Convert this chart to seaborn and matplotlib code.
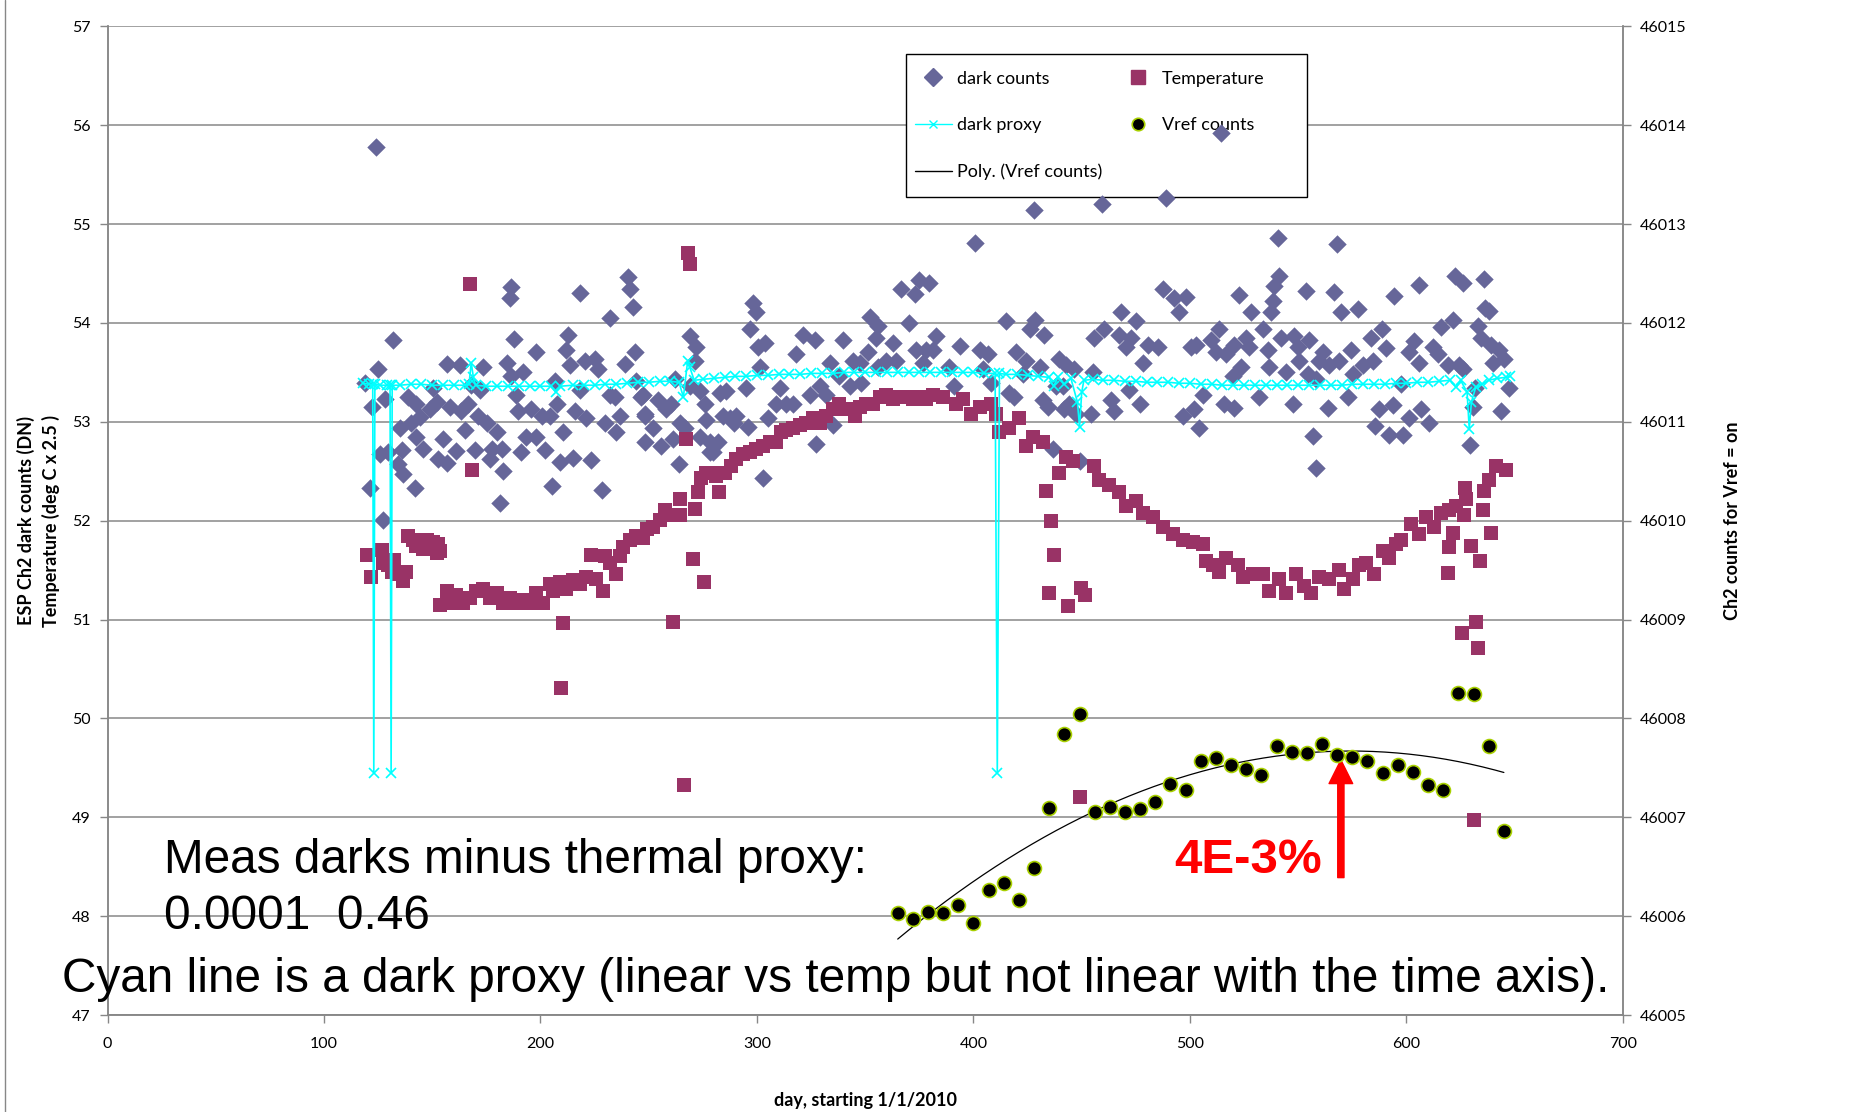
import matplotlib
matplotlib.use("Agg")
import matplotlib.pyplot as plt
import numpy as np
import seaborn as sns
from matplotlib.lines import Line2D
from matplotlib.patches import Rectangle

# ESP Ch2 dark counts (DN)
dark_days = [
    124.0, 132.0, 125.0, 118.9, 122.0, 128.1, 121.2, 125.8, 129.7, 127.4, 134.3, 136.6,
    142.0, 135.8, 135.0, 138.9, 142.7, 140.4, 144.3, 142.7, 145.8, 148.9, 150.4, 152.0,
    152.7, 155.1, 156.6, 156.6, 158.1, 161.2, 162.7, 163.5, 165.1, 166.6, 169.7, 168.1,
    172.0, 173.5, 171.2, 175.1, 176.6, 179.7, 182.0, 177.4, 182.8, 181.2, 184.3, 186.6,
    185.8, 186.3, 187.7, 189.7, 191.2, 192.0, 188.9, 193.5, 195.8, 198.1, 198.1, 200.5,
    202.0, 204.3, 205.1, 206.6, 207.4, 208.9, 210.5, 212.0, 212.8, 213.5, 215.1, 215.8,
    218.1, 218.1, 220.5, 221.2, 223.5, 225.1, 226.6, 228.2, 229.7, 232.0, 232.0, 234.3,
    235.1, 236.6, 238.9, 240.2, 241.2, 242.8, 243.5, 244.3, 246.6, 248.2, 248.2,
    247.3, 248.1, 252.0, 254.3, 255.8, 258.1, 260.4, 261.2, 262.0, 264.0, 264.3, 266.6,
    268.9, 272.0, 271.2, 268.9, 273.5, 275.8, 276.5, 273.5, 278.1, 279.7, 278.1, 282.0,
    282.8, 285.8, 284.3, 287.4, 290.4, 289.6, 295.1, 295.8, 296.6, 298.1, 299.7, 300.4,
    303.5, 301.2, 305.0, 302.7, 308.9, 310.4, 313.5, 318.1, 316.6, 321.2, 326.6, 324.3,
    327.4, 328.9, 333.5, 332.0, 335.1, 339.7, 338.1, 342.8, 344.3, 347.4, 348.2, 351.2,
    352.0, 355.8, 355.1, 356.0, 359.7, 362.8, 364.3, 366.6, 370.4, 372.8, 374.8, 379.4,
    373.5, 376.6, 378.2, 382.8,
    400.5, 427.9, 459.4, 489.0, 514.4, 381.2, 393.6, 388.9, 391.2, 402.8, 406.6, 404.3,
    408.2, 414.8, 419.7, 416.6, 418.9, 424.3, 425.9, 428.2, 432.8, 422.8, 430.5, 432.0,
    434.3, 436.6, 439.7, 442.8, 441.3, 438.2, 442.0, 444.3, 446.6, 447.4, 449.0, 454.3,
    455.1, 455.9, 460.5, 463.6, 465.1, 468.2, 467.4, 470.5, 472.8, 475.1, 476.7, 472.0,
    478.2, 480.5, 485.1, 487.4, 492.8, 498.2, 495.1, 496.7, 500.5, 502.8, 502.0, 504.3,
    505.9, 509.7, 512.0, 513.6, 515.9, 516.7,
    540.5, 567.8, 541.3, 539.0, 522.8, 528.2, 538.2, 537.5, 553.6, 566.7, 569.8, 577.5,
    594.4, 605.6, 622.6, 625.9, 635.9, 636.5, 638.3, 621.3, 615.9, 632.9, 634.4, 519.8,
    520.5, 525.9, 527.4, 523.6, 533.6, 535.9, 536.7, 542.1, 544.4, 548.2, 549.8, 550.5,
    555.2, 554.4, 558.2, 561.3, 559.8, 564.4, 569.0, 574.4, 575.2, 579.8, 583.6, 588.5,
    584.4, 590.5, 597.5, 601.3, 603.6, 605.9, 612.1, 614.4, 619.0, 624.4, 625.9, 639.0,
    642.9, 645.2, 647.5, 643.6, 639.8, 630.6, 629.3, 631.8, 610.6, 606.7, 601.3, 598.2,
    593.6, 592.1, 587.5, 585.5, 572.9, 563.6, 556.7, 558.2, 547.5, 532.1, 520.5,
]
dark_counts = [
    55.78, 53.83, 53.53, 53.39, 53.15, 53.23, 52.33, 52.67, 52.69, 52.01, 52.57, 52.47,
    52.33, 52.71, 52.94, 53.25, 53.18, 52.99, 53.05, 52.85, 52.73, 53.13, 53.34, 53.20,
    52.62, 52.83, 52.58, 53.58, 53.15, 52.70, 53.57, 53.11, 52.92, 53.18, 52.71, 53.37,
    53.32, 53.55, 53.06, 52.99, 52.62, 52.90, 52.73, 52.73, 52.50, 52.18, 53.60, 53.46,
    54.25, 54.36, 53.84, 53.11, 52.69, 53.50, 53.27, 52.85, 53.13, 53.71, 52.85, 53.06,
    52.71, 53.06, 52.35, 53.41, 53.18, 52.59, 52.90, 53.73, 53.88, 53.57, 52.63, 53.11,
    54.30, 53.32, 53.62, 53.04, 52.61, 53.64, 53.53, 52.31, 52.99, 54.05, 53.27, 53.25,
    52.90, 53.06, 53.58, 54.46, 54.34, 54.16, 53.71, 53.41, 53.25, 53.06, 52.80,
    53.27, 53.08, 52.94, 53.22, 52.76, 53.13, 53.18, 52.83, 53.43, 52.57, 52.99, 52.94,
    53.87, 53.76, 53.62, 53.36, 53.31, 53.18, 53.02, 52.85, 52.69, 52.69, 52.80, 52.80,
    53.29, 53.31, 53.06, 53.04, 53.06, 52.99, 53.34, 52.95, 53.94, 54.20, 54.11, 53.76,
    53.80, 53.55, 53.04, 52.43, 53.18, 53.34, 53.18, 53.69, 53.18, 53.88, 53.83, 53.27,
    52.78, 53.36, 53.59, 53.27, 52.97, 53.83, 53.46, 53.36, 53.62, 53.60, 53.39, 53.71,
    54.06, 53.97, 53.85, 53.55, 53.62, 53.80, 53.62, 54.34, 54.00, 54.29, 54.43, 54.40,
    53.73, 53.60, 53.73, 53.87,
    54.81, 55.14, 55.20, 55.26, 55.92, 53.73, 53.77, 53.55, 53.36, 53.73, 53.69, 53.53,
    53.39, 54.02, 53.71, 53.29, 53.25, 53.62, 53.94, 54.03, 53.88, 53.48, 53.55, 53.22,
    53.15, 52.73, 53.64, 53.57, 53.36, 53.36, 53.13, 53.18, 53.53, 53.08, 52.60, 53.08,
    53.50, 53.85, 53.94, 53.22, 53.11, 54.11, 53.88, 53.76, 53.85, 54.02, 53.18, 53.32,
    53.60, 53.78, 53.76, 54.34, 54.25, 54.26, 54.11, 53.06, 53.76, 53.78, 53.13, 52.94,
    53.27, 53.83, 53.71, 53.94, 53.18, 53.69,
    54.86, 54.80, 54.48, 54.37, 54.28, 54.11, 54.22, 54.11, 54.32, 54.31, 54.11, 54.14,
    54.27, 54.38, 54.47, 54.40, 54.44, 54.15, 54.12, 54.03, 53.96, 53.97, 53.85, 53.46,
    53.78, 53.85, 53.76, 53.55, 53.94, 53.73, 53.55, 53.85, 53.50, 53.87, 53.76, 53.62,
    53.83, 53.48, 53.43, 53.71, 53.62, 53.57, 53.62, 53.73, 53.48, 53.57, 53.85, 53.94,
    53.62, 53.75, 53.38, 53.71, 53.82, 53.60, 53.76, 53.69, 53.57, 53.57, 53.53, 53.78,
    53.73, 53.64, 53.34, 53.11, 53.60, 53.15, 52.77, 53.34, 52.99, 53.13, 53.04, 52.87,
    53.17, 52.87, 53.13, 52.96, 53.25, 53.14, 52.86, 52.53, 53.18, 53.25, 53.14,
]

# Temperature (deg C x 2.5)
temp_days = [
    119.7, 121.5, 126.6, 127.4, 129.7, 131.2, 132.4, 134.3, 136.6, 138.1,
    138.9, 141.2, 142.7, 144.3, 145.8, 147.4, 150.4, 152.0, 152.8, 153.5,
    153.5, 156.6, 158.1, 161.2, 164.3, 167.4, 170.4, 173.5, 176.6, 179.7, 182.8, 185.8,
    188.9, 192.0, 195.1, 198.1, 201.2, 204.3, 205.8, 208.9, 212.0, 215.1, 218.1, 221.2,
    223.5, 225.8, 228.9, 229.7, 232.0, 235.1, 236.6, 238.2, 241.2, 244.3, 247.4, 249.0,
    167.4, 168.5, 210.5, 209.4,
    252.0, 255.0, 257.3, 260.4, 264.3, 264.6, 268.1, 269.2, 267.3, 261.2, 270.4, 275.5,
    266.3, 271.2, 272.7, 274.3, 276.6, 278.9, 282.3, 281.2, 285.0, 288.1, 290.4, 293.5,
    296.6, 299.7, 302.7, 305.8, 308.9, 311.2, 313.5, 316.6, 319.7, 322.8, 325.8, 328.9,
    332.0, 335.1, 338.1, 341.2, 345.1, 347.4, 350.4, 353.5, 356.6, 359.7, 362.8, 365.8,
    368.9, 372.0, 375.1, 378.2, 381.2,
    385.9, 392.0, 395.1, 398.9, 402.8, 408.2, 410.5, 412.0, 416.6, 421.2, 424.3, 427.4,
    432.0, 433.6, 435.9, 437.0, 435.1, 443.6, 449.7, 451.3, 449.3, 439.7, 442.8, 445.9,
    455.9, 458.2, 462.8, 467.4, 470.5, 475.1, 478.2, 482.8, 487.4, 492.0, 496.7, 501.3,
    505.9, 507.4, 510.5, 513.6,
    516.7, 522.1, 524.4, 529.0, 533.6, 536.7, 541.3, 544.4, 549.0, 552.8, 555.9, 559.8,
    564.4, 569.0, 571.3, 575.2, 578.2, 581.3, 585.2, 589.0, 592.1, 595.2, 597.5, 602.1,
    605.9, 609.0, 612.9, 615.9, 619.7, 622.9, 626.7, 627.5, 627.0, 621.3, 619.8, 619.0,
    629.8, 634.1, 639.0, 635.2, 635.9, 638.3, 641.3, 645.9, 625.5, 632.1, 633.2, 631.3,
]
temp_vals = [
    51.65, 51.43, 51.70, 51.57, 51.55, 51.48, 51.60, 51.46, 51.39, 51.48,
    51.85, 51.80, 51.74, 51.76, 51.71, 51.80, 51.78, 51.67, 51.76, 51.69,
    51.15, 51.29, 51.17, 51.25, 51.17, 51.22, 51.29, 51.31, 51.22, 51.27, 51.17, 51.22,
    51.17, 51.20, 51.17, 51.27, 51.17, 51.36, 51.29, 51.38, 51.31, 51.40, 51.36, 51.43,
    51.65, 51.41, 51.29, 51.64, 51.57, 51.46, 51.64, 51.73, 51.80, 51.85, 51.83, 51.92,
    54.39, 52.51, 50.97, 50.31,
    51.94, 52.01, 52.11, 52.06, 52.06, 52.22, 54.71, 54.60, 52.83, 50.98, 51.61, 51.38,
    49.33, 52.12, 52.29, 52.43, 52.48, 52.48, 52.29, 52.45, 52.48, 52.55, 52.62, 52.67,
    52.69, 52.73, 52.76, 52.80, 52.80, 52.90, 52.92, 52.94, 52.97, 52.99, 53.04, 52.99,
    53.06, 53.13, 53.18, 53.13, 53.06, 53.15, 53.18, 53.18, 53.25, 53.27, 53.23, 53.25,
    53.25, 53.23, 53.25, 53.23, 53.27,
    53.25, 53.18, 53.23, 53.08, 53.15, 53.18, 53.08, 52.90, 52.94, 53.04, 52.76, 52.85,
    52.80, 52.30, 52.00, 51.65, 51.27, 51.14, 51.32, 51.25, 49.21, 52.48, 52.64, 52.60,
    52.55, 52.41, 52.36, 52.29, 52.15, 52.20, 52.08, 52.04, 51.94, 51.87, 51.80, 51.78,
    51.76, 51.59, 51.55, 51.48,
    51.62, 51.55, 51.43, 51.46, 51.46, 51.29, 51.41, 51.27, 51.46, 51.34, 51.27, 51.43,
    51.41, 51.50, 51.31, 51.41, 51.55, 51.57, 51.46, 51.69, 51.62, 51.76, 51.80, 51.97,
    51.87, 52.04, 51.94, 52.08, 52.11, 52.15, 52.06, 52.22, 52.33, 51.88, 51.73, 51.47,
    51.74, 51.59, 51.88, 52.11, 52.30, 52.41, 52.55, 52.51, 50.86, 50.98, 50.71, 48.97,
]

# dark proxy (linear vs temperature)
proxy_days = [
    118, 121, 122.5, 123, 123.5, 126, 129, 130.5, 131, 131.5, 135, 140, 145, 150, 155,
    160, 165, 167, 168, 169, 170, 175, 180, 185, 190, 195, 200, 205, 207, 209, 215, 220,
    225, 230, 235, 240, 245, 250, 255, 260, 264, 266, 268, 269, 271, 275, 280, 285, 290,
    295, 300, 305, 310, 315, 320, 325, 330, 335, 340, 345, 350, 355, 360, 365, 370, 375,
    380, 385, 390, 395, 400, 405, 410, 411, 412, 415, 420, 425, 430, 435, 437, 439, 442,
    445, 448, 449, 450, 451, 455, 460, 465, 470, 475, 480, 485, 490, 495, 500, 505, 510,
    515, 520, 525, 530, 535, 540, 545, 550, 555, 560, 565, 570, 575, 580, 585, 590, 595,
    600, 605, 610, 615, 620, 623, 625, 628, 629, 630, 632, 635, 638, 642, 646, 648,
]
proxy_vals = [
    53.39, 53.38, 53.38, 49.45, 53.38, 53.37, 53.37, 53.37, 49.45, 53.37, 53.37, 53.38,
    53.38, 53.37, 53.37, 53.37, 53.37, 53.38, 53.60, 53.45, 53.37, 53.36, 53.36, 53.36,
    53.36, 53.36, 53.36, 53.36, 53.30, 53.36, 53.37, 53.37, 53.37, 53.38, 53.38, 53.39,
    53.40, 53.40, 53.41, 53.41, 53.40, 53.25, 53.62, 53.55, 53.42, 53.43, 53.44, 53.45,
    53.46, 53.46, 53.47, 53.47, 53.48, 53.48, 53.48, 53.49, 53.49, 53.49, 53.50, 53.50,
    53.50, 53.50, 53.50, 53.50, 53.50, 53.50, 53.50, 53.50, 53.50, 53.50, 53.50, 53.49,
    53.49, 49.45, 53.49, 53.48, 53.48, 53.47, 53.46, 53.45, 53.36, 53.45, 53.38, 53.44,
    53.20, 52.95, 53.30, 53.42, 53.43, 53.42, 53.42, 53.41, 53.41, 53.40, 53.40, 53.40,
    53.39, 53.39, 53.38, 53.38, 53.37, 53.37, 53.37, 53.37, 53.37, 53.37, 53.37, 53.37,
    53.37, 53.37, 53.37, 53.37, 53.38, 53.38, 53.38, 53.38, 53.39, 53.39, 53.40, 53.40,
    53.41, 53.42, 53.35, 53.42, 53.30, 52.93, 53.20, 53.35, 53.38, 53.42, 53.44, 53.45,
    53.46,
]

# Ch2 counts for Vref = on (right axis)
vref_days = [
    365, 372, 379, 386, 393, 400, 407, 414, 421, 428, 435, 442, 449, 456, 463, 470, 477,
    484, 491, 498, 505, 512, 519, 526, 533, 540, 547, 554, 561, 568, 575, 582, 589, 596,
    603, 610, 617, 624, 631, 638, 645,
]
vref_counts = [
    46006.03, 46005.97, 46006.04, 46006.03, 46006.11, 46005.93, 46006.26, 46006.34,
    46006.16, 46006.49, 46007.09, 46007.84, 46008.04, 46007.05, 46007.10, 46007.05,
    46007.08, 46007.15, 46007.34, 46007.28, 46007.57, 46007.60, 46007.53, 46007.49,
    46007.43, 46007.72, 46007.66, 46007.65, 46007.74, 46007.63, 46007.61, 46007.57,
    46007.45, 46007.53, 46007.46, 46007.33, 46007.28, 46008.26, 46008.25, 46007.72,
    46006.86,
]

x_ticks = [0, 100, 200, 300, 400, 500, 600, 700]
left_ticks = list(range(47, 58))
right_ticks = list(range(46005, 46016))

DARK_COL = "#666699"
TEMP_COL = "#993366"
PROXY_COL = "#00FFFF"
VREF_EDGE = "#A8D000"
GRID_COL = "#878787"

sns.set_theme(style="white")
plt.rcParams["font.family"] = ["Lato", "DejaVu Sans"]
plt.rcParams["text.color"] = "black"
plt.rcParams["axes.labelcolor"] = "black"

fig = plt.figure(figsize=(18.73, 11.12), dpi=100)
ax = fig.add_axes([0.0574, 0.0872, 0.8091, 0.8891])
ax2 = ax.twinx()

sns.scatterplot(x=dark_days, y=dark_counts, ax=ax, marker="D", s=88,
                color=DARK_COL, edgecolor=DARK_COL, linewidth=0, zorder=3)
sns.scatterplot(x=temp_days, y=temp_vals, ax=ax, marker="s", s=112,
                color=TEMP_COL, edgecolor=TEMP_COL, linewidth=0, zorder=4)
sns.lineplot(x=proxy_days, y=proxy_vals, ax=ax, color=PROXY_COL, lw=1.2,
             marker="x", markersize=6.5, markeredgewidth=1.2,
             markeredgecolor=PROXY_COL, sort=False, estimator=None, zorder=5)

# 2nd order polynomial trend of the Vref counts
coef = np.polyfit(vref_days, vref_counts, 2)
fit_x = np.linspace(min(vref_days), max(vref_days), 200)
sns.lineplot(x=fit_x, y=np.polyval(coef, fit_x), ax=ax2, color="black", lw=0.9)
sns.scatterplot(x=vref_days, y=vref_counts, ax=ax2, marker="o", s=100,
                color="black", edgecolor=VREF_EDGE, linewidth=1.2, zorder=6)

ax.set_xlim(0, 700)
ax.set_ylim(47, 57)
ax2.set_ylim(46005, 46015)
ax.set_xticks(x_ticks)
ax.set_yticks(left_ticks)
ax2.set_yticks(right_ticks)

ax.yaxis.grid(True, color=GRID_COL, lw=1.1)
ax.set_axisbelow(True)
for a in (ax, ax2):
    a.spines["top"].set_visible(False)
    for s in ("left", "right", "bottom"):
        a.spines[s].set_color(GRID_COL)
        a.spines[s].set_linewidth(1.1)

ax.tick_params(axis="both", direction="out", length=6, width=1, color=GRID_COL,
               labelcolor="black", labelsize=11.5, bottom=True, left=True, pad=6)
ax.tick_params(axis="x", pad=10)
ax2.tick_params(axis="y", direction="out", length=6, width=1, color=GRID_COL,
                labelcolor="black", labelsize=11.5, right=True, pad=6)

ax.set_ylabel("ESP Ch2 dark counts (DN)\nTemperature (deg C x 2.5 )",
              fontsize=13, fontweight="bold", labelpad=9, linespacing=1.45)
ax2.set_ylabel("Ch2 counts for Vref = on", fontsize=13, fontweight="bold",
               labelpad=27)
ax.set_xlabel("day, starting 1/1/2010", fontsize=13, fontweight="bold",
              labelpad=29)

# legend: white box under the data marks, like the original
ax.add_patch(Rectangle((0.527, 0.8273), 0.2646, 0.1446, transform=ax.transAxes,
                       facecolor="white", edgecolor="black", lw=1.0, zorder=2.4))
handles = [
    Line2D([], [], marker="D", ls="none", color=DARK_COL, ms=9),
    Line2D([], [], color=PROXY_COL, lw=1, marker="x", ms=6),
    Line2D([], [], color="black", lw=1),
    Line2D([], [], marker="s", ls="none", color=TEMP_COL, ms=10),
    Line2D([], [], marker="o", ls="none", mfc="black", mec=VREF_EDGE, ms=9, mew=1.2),
]
labels = ["dark counts", "dark proxy", "Poly. (Vref counts)", "Temperature", "Vref counts"]
leg = ax.legend(handles, labels, ncol=2, loc="upper left",
                bbox_to_anchor=(0.5328, 0.9552), frameon=False, fontsize=13,
                labelspacing=1.69, handlelength=2.05, handletextpad=0.3,
                borderpad=0, borderaxespad=0, columnspacing=0.93)
leg.set_zorder(2.5)

big = ["Liberation Sans", "DejaVu Sans"]
fig.text(0.0873, 0.2266, "Meas darks minus thermal proxy:", fontsize=34.4,
         family=big, va="center", color="black")
fig.text(0.0873, 0.1754, "0.0001  0.46", fontsize=34.4, family=big, va="center",
         color="black")
fig.text(0.0331, 0.1192,
         "Cyan line is a dark proxy (linear vs temp but not linear with the time axis).",
         fontsize=34.4, family=big, va="center", color="black")
fig.text(0.6664, 0.2266, "4E-3%", fontsize=35.5, family=big, fontweight="bold",
         color="#FF0000", va="center", ha="center")
ax.annotate("", xy=(569.7, 49.58), xytext=(569.7, 48.39),
            arrowprops=dict(facecolor="#FF0000", edgecolor="#FF0000", width=4.5,
                            headwidth=17, headlength=17, shrink=0))

fig.add_artist(Line2D([0.0027, 0.0027], [0, 1], transform=fig.transFigure,
                      color=GRID_COL, lw=1))

fig.savefig("out.png", dpi=100)
